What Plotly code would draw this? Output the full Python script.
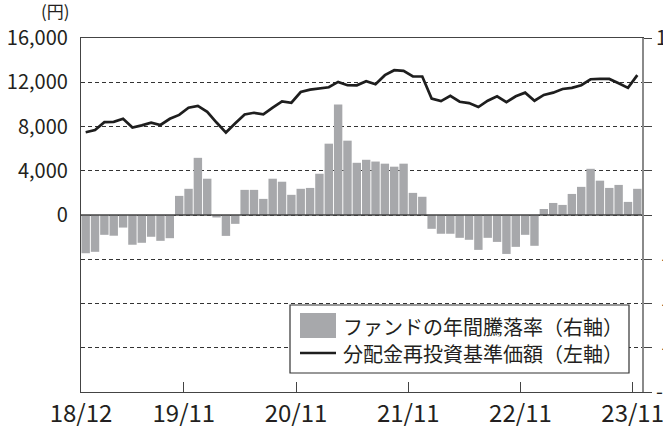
import plotly.graph_objects as go

# ---- data ----
months = []
y, m = 2018, 12
for _ in range(60):
    months.append(f"{y % 100:02d}/{m:02d}")
    m += 1
    if m > 12:
        m = 1
        y += 1

nav = [7485, 7680, 8390, 8420, 8700, 7910, 8100, 8350, 8140, 8700,
       9050, 9700, 9860, 9320, 8360, 7450, 8290, 9090, 9240, 9090,
       9700, 10270, 10150, 11120, 11330, 11420, 11550, 12030, 11730, 11720,
       12090, 11820, 12640, 13090, 13030, 12520, 12520, 10520, 10300, 10780,
       10240, 10120, 9760, 10330, 10730, 10210, 10730, 11060, 10330, 10850,
       11060, 11390, 11490, 11730, 12270, 12300, 12300, 11910, 11490, 12640]

ret = [-21.6, -20.8, -11.2, -11.7, -7.1, -16.8, -15.7, -12.3, -14.6, -13.1,
       10.8, 14.8, 32.3, 20.5, -1.4, -11.8, -5.0, 14.2, 14.2, 9.1,
       20.5, 18.8, 11.4, 14.8, 15.3, 23.3, 40.3, 62.5, 42.0, 29.5,
       31.2, 30.2, 29.0, 27.3, 29.0, 12.5, 10.3, -7.8, -10.6, -10.6,
       -12.9, -14.0, -19.7, -12.9, -15.2, -22.0, -18.0, -11.2, -17.4, 3.4,
       6.8, 5.7, 11.9, 15.9, 26.1, 19.4, 15.3, 17.0, 7.4, 14.8]

tick_months = ["18/12", "19/11", "20/11", "21/11", "22/11", "23/11"]
left_ticks = [-16000, -12000, -8000, -4000, 0, 4000, 8000, 12000, 16000]
left_labels = ["", "", "", "", "0", "4,000", "8,000", "12,000", "16,000"]
right_ticks = [-100, -75, -50, -25, 0, 25, 50, 75, 100]
right_labels = ["-100", "\u2008-75", "\u2008-50", "\u2008-25",
                "\u2007\u20070", "\u200725", "\u200750", "\u200775", "100"]

legend_bar = "ファンドの年間騰落率（右軸）"
legend_line = "分配金再投資基準価額（左軸）"

FONT = "Noto Sans CJK JP"
TXT = "#231f20"

xpos = [i + 0.5 for i in range(len(months))]
tickpos = [months.index(t) for t in tick_months]

fig = go.Figure()
fig.add_trace(go.Bar(x=xpos, y=ret, yaxis="y2", marker=dict(color="#a7a8ab", line=dict(width=0)),
                     name=legend_bar, showlegend=False, hoverinfo="skip"))
fig.add_trace(go.Scatter(x=xpos, y=nav, mode="lines", line=dict(color="#1e1e1e", width=2.7),
                         name=legend_line, showlegend=False, hoverinfo="skip"))

W, H = 663, 426
L, R, T, B = 81, 21, 38, 34
pw, ph = W - L - R, H - T - B

def px(x):
    return (x - L) / pw

def py(y):
    return (H - B - y) / ph

fig.update_layout(
    width=W, height=H,
    margin=dict(l=L, r=R, t=T, b=B, pad=0, autoexpand=False),
    paper_bgcolor="white", plot_bgcolor="white",
    font=dict(family=FONT, color=TXT, size=20),
    bargap=0.1,
    xaxis=dict(range=[0, 60], tickvals=tickpos, ticktext=tick_months, automargin=False,
               ticklabeloverflow="allow",
               ticks="inside", ticklen=10, tickcolor="#444", tickwidth=1,
               showline=True, linecolor="#444", linewidth=1.2, mirror=True,
               showgrid=False, zeroline=False, tickfont=dict(size=24)),
    yaxis=dict(range=[-16000, 16000], tickvals=left_ticks, ticktext=left_labels, automargin=False,
               showline=True, linecolor="#444", linewidth=1.2,
               showgrid=True, gridcolor="#333", gridwidth=1, griddash="4px,3px",
               zeroline=False, ticks="", ticklabelstandoff=8, tickfont=dict(size=20)),
    yaxis2=dict(range=[-100, 100], overlaying="y", side="right", automargin=False,
                ticklabeloverflow="allow",
                tickvals=right_ticks, ticktext=right_labels,
                showline=True, linecolor="#8a8a8a", linewidth=2,
                ticks="outside", ticklen=8, tickcolor="#444",
                showgrid=False, zeroline=False, tickfont=dict(size=20)),
)

# zero line over the bars
fig.add_shape(type="line", xref="paper", yref="y", x0=0, x1=1, y0=0, y1=0,
              line=dict(color="#444", width=1.3), layer="above")

# unit label
fig.add_annotation(text="(円)", xref="paper", yref="paper", x=px(72), y=py(11),
                   xanchor="right", yanchor="middle", showarrow=False,
                   font=dict(size=17, family=FONT, color=TXT))

# legend box
fig.add_shape(type="rect", xref="paper", yref="paper", x0=px(290), x1=px(629), y0=py(305), y1=py(373),
              line=dict(color="#333", width=1.2), fillcolor="white", layer="above")
fig.add_shape(type="rect", xref="paper", yref="paper", x0=px(300), x1=px(336), y0=py(313), y1=py(338),
              line=dict(width=0), fillcolor="#a7a8ab", layer="above")
fig.add_shape(type="line", xref="paper", yref="paper", x0=px(300), x1=px(336), y0=py(353), y1=py(353),
              line=dict(color="#1e1e1e", width=2.7), layer="above")
fig.add_annotation(text=legend_bar, xref="paper", yref="paper", x=px(341), y=py(326),
                   xanchor="left", yanchor="middle", showarrow=False,
                   font=dict(size=20, family=FONT, color=TXT))
fig.add_annotation(text=legend_line, xref="paper", yref="paper", x=px(341), y=py(353),
                   xanchor="left", yanchor="middle", showarrow=False,
                   font=dict(size=20, family=FONT, color=TXT))

fig.write_html("out.html", config={"displayModeBar": False},
               post_script="document.body.style.margin='0';document.body.style.overflow='hidden';")
